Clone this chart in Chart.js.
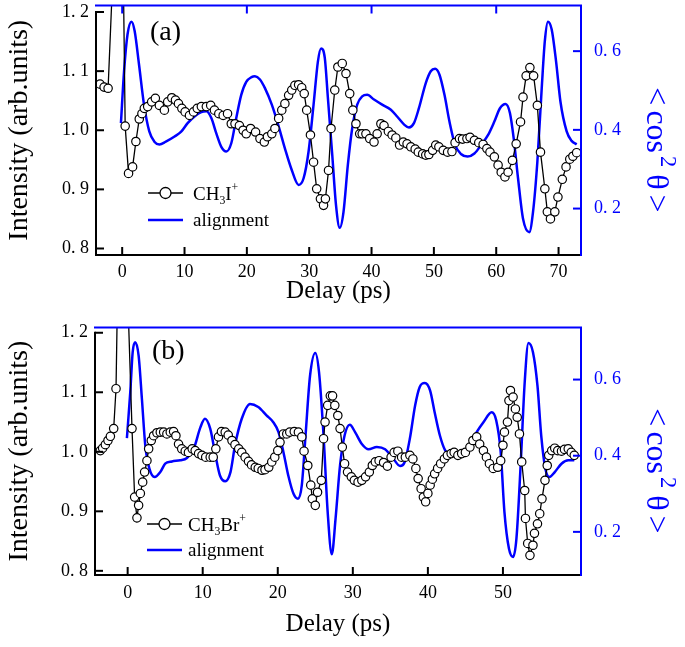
<!DOCTYPE html>
<html><head><meta charset="utf-8">
<script src="https://cdn.jsdelivr.net/npm/chart.js@4/dist/chart.umd.min.js"></script>
<style>
html,body{margin:0;padding:0;background:#fff;}
#wrap{position:relative;width:685px;height:647px;overflow:hidden;}
canvas{position:absolute;left:0;}
#ca{top:0;} #cb{top:322px;}
</style></head>
<body><div id="wrap"><canvas id="ca" width="685" height="322"></canvas><canvas id="cb" width="685" height="325"></canvas></div>
<script>
// ---------- DATA: panel (a) CH3I+ ----------
const timeA = [-3.55,-2.9,-2.26,-0.2,0.48,1.02,1.67,2.2,2.74,3.17,3.55,4.09,4.73,5.32,5.97,6.77,7.3,7.96,8.55,9.03,9.57,10.1,10.8,11.45,12.04,12.7,13.5,14.2,14.8,15.5,16.2,16.9,17.5,18.1,18.8,19.4,19.9,20.6,21.4,22.1,22.8,23.3,24.0,24.5,25.1,25.6,26.1,26.7,27.2,27.7,28.3,28.8,29.2,29.6,30.2,30.7,31.2,31.8,32.3,32.6,33.1,33.5,34.1,34.6,35.3,35.9,36.5,37.0,37.5,38.1,38.5,39.1,39.7,40.4,40.9,41.5,42.0,42.7,43.3,43.9,44.5,45.1,45.7,46.3,47.0,47.5,48.2,48.7,49.2,49.8,50.3,50.8,51.5,52.2,52.9,53.4,54.1,54.6,55.3,55.8,56.5,57.2,57.9,58.5,59.0,59.7,60.3,60.8,61.4,61.9,62.6,63.2,63.9,64.3,64.8,65.4,66.0,66.6,67.1,67.8,68.2,68.7,69.4,69.9,70.6,71.2,71.8,72.3,72.9];
const ch3iA = [1.078,1.073,1.071,1.59,1.007,0.927,0.938,0.981,1.019,1.028,1.037,1.040,1.048,1.054,1.042,1.034,1.048,1.055,1.051,1.045,1.037,1.031,1.025,1.031,1.037,1.040,1.040,1.042,1.034,1.028,1.025,1.028,1.011,1.011,1.008,1.000,0.994,1.003,0.997,0.986,0.980,0.989,0.994,1.003,1.020,1.034,1.045,1.059,1.068,1.076,1.077,1.072,1.062,1.034,0.992,0.946,0.901,0.884,0.873,0.884,0.932,1.003,1.068,1.107,1.113,1.096,1.062,1.034,1.011,0.994,0.994,0.994,0.986,0.980,0.994,1.011,1.008,0.998,0.992,0.987,0.975,0.980,0.977,0.972,0.968,0.963,0.960,0.958,0.959,0.966,0.975,0.972,0.966,0.963,0.964,0.979,0.986,0.985,0.986,0.988,0.983,0.979,0.976,0.969,0.963,0.955,0.941,0.929,0.921,0.929,0.949,0.977,1.014,1.056,1.092,1.106,1.092,1.042,0.963,0.901,0.862,0.850,0.862,0.887,0.917,0.938,0.951,0.956,0.962];
const alignTimeA = [-0.2,0.3,0.86,1.5,2.0,2.7,3.5,4.35,5.16,5.97,7.0,8.4,9.5,10.5,11.6,12.7,13.5,14.3,15.1,15.9,16.7,17.5,18.3,19.1,19.9,20.75,21.3,22.1,22.9,24.0,25.1,26.1,27.2,28.3,29.1,29.9,30.7,31.4,31.9,32.5,33.0,33.7,34.3,34.9,35.5,36.2,36.9,37.7,38.5,39.3,40.4,41.7,43.1,44.1,45.2,46.0,46.8,47.6,48.7,49.5,50.2,50.9,51.7,52.5,53.4,54.4,55.4,56.5,57.6,58.7,59.7,60.6,61.5,62.2,62.8,63.5,64.3,65.3,65.9,66.6,67.3,67.8,68.3,68.9,69.6,70.3,71.3,72.1,72.9];
const alignA = [0.417,0.549,0.643,0.675,0.651,0.566,0.464,0.396,0.370,0.363,0.370,0.383,0.396,0.417,0.434,0.445,0.447,0.430,0.391,0.357,0.345,0.366,0.430,0.489,0.522,0.534,0.536,0.528,0.506,0.464,0.409,0.353,0.298,0.260,0.277,0.345,0.464,0.574,0.607,0.583,0.481,0.336,0.209,0.151,0.191,0.311,0.404,0.464,0.485,0.489,0.477,0.464,0.451,0.434,0.414,0.406,0.417,0.455,0.519,0.549,0.555,0.540,0.489,0.421,0.362,0.338,0.332,0.340,0.362,0.387,0.421,0.455,0.466,0.443,0.379,0.277,0.174,0.140,0.191,0.319,0.506,0.626,0.675,0.655,0.574,0.472,0.396,0.372,0.363];

// ---------- DATA: panel (b) CH3Br+ ----------
const timeB = [-3.64,-3.33,-2.97,-2.62,-2.3,-1.86,-1.55,-0.9,0.58,0.93,1.24,1.46,1.69,2.0,2.26,2.57,2.8,3.15,3.46,3.9,4.35,4.8,5.23,5.68,6.12,6.43,6.78,7.2,7.67,8.1,8.6,9.0,9.45,9.9,10.4,11.0,11.4,11.75,12.1,12.5,13.0,13.4,13.9,14.3,14.8,15.2,15.65,16.1,16.5,17.0,17.4,17.9,18.3,18.8,19.2,19.6,20.0,20.3,20.75,21.2,21.6,22.2,22.75,23.2,23.5,24.0,24.4,24.6,25.0,25.3,25.8,26.1,26.3,26.65,27.0,27.3,27.6,28.0,28.3,28.6,28.9,29.3,29.8,30.2,30.7,31.2,31.7,32.2,32.6,33.0,33.5,34.1,34.6,35.1,35.5,36.0,36.5,37.0,37.6,38.0,38.4,38.7,39.1,39.4,39.7,40.0,40.3,40.6,40.9,41.3,41.7,42.2,42.6,43.1,43.5,44.0,44.5,45.0,45.6,46.0,46.5,46.9,47.4,47.8,48.2,48.7,49.3,49.7,50.0,50.2,50.6,50.8,51.0,51.35,51.66,51.9,52.2,52.5,52.9,53.0,53.3,53.6,54.0,54.2,54.6,54.9,55.2,55.6,55.9,56.1,56.5,56.9,57.3,57.8,58.2,58.7,59.1,59.5];
const ch3brB = [1.002,1.006,1.012,1.019,1.026,1.039,1.106,1.62,1.039,0.924,0.889,0.910,0.930,0.949,0.966,0.985,1.005,1.019,1.027,1.032,1.033,1.033,1.030,1.033,1.034,1.027,1.013,1.005,1.001,0.999,1.005,1.002,0.997,0.994,0.991,0.991,0.991,1.005,1.025,1.034,1.033,1.028,1.019,1.012,1.005,0.999,0.991,0.984,0.978,0.974,0.972,0.969,0.970,0.974,0.983,0.991,1.002,1.016,1.030,1.030,1.033,1.034,1.033,1.025,1.001,0.977,0.944,0.921,0.910,0.932,0.952,1.022,1.050,1.078,1.094,1.094,1.078,1.061,1.039,1.008,0.980,0.966,0.958,0.952,0.949,0.952,0.958,0.966,0.977,0.983,0.985,0.982,0.976,0.991,0.999,1.001,0.991,0.991,0.994,0.988,0.972,0.955,0.938,0.924,0.916,0.930,0.944,0.954,0.963,0.972,0.980,0.988,0.994,0.997,0.999,0.994,0.997,0.999,1.008,1.019,1.025,1.013,1.002,0.991,0.980,0.972,0.974,0.985,1.011,1.033,1.050,1.086,1.103,1.092,1.072,1.058,1.030,0.983,0.935,0.888,0.846,0.826,0.843,0.863,0.879,0.896,0.921,0.952,0.977,0.994,1.002,1.006,1.002,1.001,1.004,1.005,0.999,0.994];
const alignTimeB = [-0.1,0.35,0.67,1.0,1.46,1.9,2.35,2.9,3.6,4.35,5.0,5.9,7.0,7.9,8.8,9.7,10.3,11.0,11.7,12.3,13.0,13.7,14.3,15.2,16.3,17.4,18.5,19.4,20.1,20.75,21.4,22.1,22.7,23.2,23.7,24.3,25.0,25.5,26.1,26.65,27.2,27.7,28.3,28.9,29.6,30.3,31.2,32.1,33.2,34.3,35.4,36.3,36.9,37.6,38.3,38.9,39.6,40.3,40.9,41.6,42.3,42.9,43.8,44.7,45.6,46.5,47.4,48.5,49.1,49.7,50.2,50.8,51.35,51.8,52.4,52.9,53.4,54.0,54.6,55.1,55.65,56.2,56.9,57.8,58.7,59.5];
const alignB = [0.446,0.567,0.672,0.698,0.663,0.549,0.427,0.366,0.344,0.357,0.379,0.385,0.388,0.394,0.418,0.475,0.497,0.471,0.401,0.348,0.333,0.357,0.427,0.497,0.536,0.528,0.506,0.488,0.462,0.410,0.348,0.300,0.287,0.322,0.453,0.610,0.670,0.619,0.453,0.252,0.141,0.235,0.375,0.453,0.481,0.462,0.431,0.417,0.423,0.417,0.392,0.373,0.383,0.445,0.532,0.580,0.591,0.571,0.514,0.453,0.414,0.405,0.403,0.405,0.427,0.462,0.488,0.514,0.493,0.410,0.252,0.156,0.134,0.183,0.392,0.593,0.696,0.672,0.584,0.453,0.366,0.344,0.357,0.379,0.388,0.388];

// ---------- TICKS ----------
const xTicksA = [0,10,20,30,40,50,60,70];
const xTopTicksA = [0,20,40,60];
const xTicksB = [0,10,20,30,40,50];
const xTopTicksB = [];
const leftTicks = [0.8,0.9,1.0,1.1,1.2];
const rightTicks = [0.2,0.4,0.6];

// ---------- STYLE ----------
const BLUE = '#0000ff';
const SERIF = "'Liberation Serif','Times New Roman',serif";

function pairs(xs, ys){ return xs.map((x,i)=>({x:x, y:ys[i]})); }
function fmt(v){ return v.toFixed(1).replace('.', '. '); }

function drawRich(ctx, parts, x, y, size){
  let cx = x;
  for(const p of parts){
    const s = (p.sub||p.sup) ? size*(p.scale||0.62) : size;
    ctx.font = s + 'px ' + SERIF;
    const dy = p.sub ? size*0.22 : (p.sup ? -size*0.45 : 0);
    ctx.fillText(p.t, cx, y+dy);
    cx += ctx.measureText(p.t).width + (p.gap||0);
  }
  return cx - x;
}
function richWidth(ctx, parts, size){
  let w=0;
  for(const p of parts){ const s=(p.sub||p.sup)?size*(p.scale||0.62):size; ctx.font=s+'px '+SERIF; w+=ctx.measureText(p.t).width+(p.gap||0); }
  return w;
}
function noPad(s){ s.paddingTop=0; s.paddingBottom=0; s.paddingLeft=0; s.paddingRight=0; }

const framePlugin = {
  id:'frame',
  afterDraw(chart){
    const o = chart.options.plugins.frame;
    const ctx = chart.ctx;
    const {left,right,top,bottom} = chart.chartArea;
    const sx = chart.scales.x, sy = chart.scales.y, sy2 = chart.scales.y2;
    ctx.save();
    ctx.lineWidth = 2;
    ctx.lineCap = 'butt';
    const line=(x1,y1,x2,y2)=>{ctx.beginPath();ctx.moveTo(x1,y1);ctx.lineTo(x2,y2);ctx.stroke();};
    // blue top & right
    ctx.strokeStyle = BLUE;
    line(left-1, top, right+1, top);
    line(right, top, right, bottom+1);
    for(const v of o.topTicks){ const px = sx.getPixelForValue(v); line(px, top, px, top+8); }
    for(const v of rightTicks){ const py = sy2.getPixelForValue(v); line(right, py, right-8, py); }
    // black left & bottom
    ctx.strokeStyle = '#000';
    line(left, sy.getPixelForValue(1.2)-1, left, bottom+1);
    line(left-1, bottom, right-1, bottom);
    for(const v of leftTicks){ const py = sy.getPixelForValue(v); line(left, py, left+8, py); }
    for(const v of o.bottomTicks){ const px = sx.getPixelForValue(v); line(px, bottom, px, bottom-8); }

    // panel label
    ctx.fillStyle = '#000';
    ctx.textBaseline = 'alphabetic';
    ctx.textAlign = 'left';
    ctx.font = '28px ' + SERIF;
    ctx.fillText(o.label, o.labelX, o.labelY);

    // legend
    const L = o.legend;
    ctx.lineWidth = 1.5; ctx.strokeStyle = '#000';
    line(L.x0, L.y1, L.x1, L.y1);
    ctx.beginPath(); ctx.arc((L.x0+L.x1)/2, L.y1, 5.5, 0, Math.PI*2);
    ctx.fillStyle='#fff'; ctx.fill(); ctx.lineWidth=1.3; ctx.stroke();
    ctx.strokeStyle = BLUE; ctx.lineWidth = 2.5;
    line(L.x0, L.y2, L.x1, L.y2);
    ctx.fillStyle = '#000';
    drawRich(ctx, L.parts, L.tx, L.y1+7, 19);
    drawRich(ctx, [{t:'alignment'}], L.tx, L.y2+6, 19);

    // right title (rotated, reading downward)
    const rt = [{t:'<', gap:5},{t:'cos', gap:3},{t:'2',sup:true, scale:0.7, gap:7},{t:'\u03B8', gap:5},{t:'>'}];
    ctx.save();
    ctx.fillStyle = BLUE;
    ctx.translate(o.rtX, o.rtY);
    ctx.rotate(Math.PI/2);
    const w = richWidth(ctx, rt, 32);
    drawRich(ctx, rt, -w/2, 10, 32);
    ctx.restore();
    ctx.restore();
  }
};

function makeChart(id, cfg){
  const H = cfg.height;
  return new Chart(document.getElementById(id), {
    type:'line',
    data:{ datasets:[
      { label:cfg.name, data:pairs(cfg.t, cfg.v), yAxisID:'y', borderColor:'#000', borderWidth:1.3,
        pointRadius:4.2, pointBackgroundColor:'#fff', pointBorderColor:'#000', pointBorderWidth:1.2,
        tension:0, order:1 },
      { label:'alignment', data:pairs(cfg.at, cfg.av), yAxisID:'y2', borderColor:BLUE, borderWidth:2.5,
        pointRadius:0, cubicInterpolationMode:'monotone', order:2 }
    ]},
    options:{
      responsive:false, animation:false, events:[],
      layout:{padding:{top:cfg.top, left:0, right:0, bottom:0}},
      plugins:{ legend:{display:false}, tooltip:{enabled:false}, frame:cfg.frame },
      scales:{
        x:{ type:'linear', min:cfg.xmin, max:cfg.xmax,
            afterBuildTicks:s=>{ s.ticks = cfg.xticks.map(v=>({value:v})); },
            afterFit:s=>{ s.height = H - cfg.bottom; noPad(s); },
            grid:{display:false, drawTicks:false}, border:{display:false},
            ticks:{ color:'#000', font:{family:SERIF, size:18}, padding:cfg.xtickPad, maxRotation:0, autoSkip:false },
            title:{ display:true, text:'Delay (ps)', color:'#000', font:{family:SERIF, size:25}, padding:{top:0,bottom:cfg.xtitlePad} } },
        y:{ type:'linear', position:'left', min:cfg.ymin, max:cfg.ymax,
            afterBuildTicks:s=>{ s.ticks = leftTicks.map(v=>({value:v})); },
            afterFit:s=>{ s.width = cfg.left; noPad(s); },
            grid:{display:false, drawTicks:false}, border:{display:false},
            ticks:{ color:'#000', font:{family:SERIF, size:18}, padding:7, callback:v=>fmt(v) },
            title:{ display:true, text:'Intensity (arb.units)', color:'#000', font:{family:SERIF, size:28}, padding:{top:3,bottom:0} } },
        y2:{ type:'linear', position:'right', min:cfg.y2min, max:cfg.y2max,
            afterBuildTicks:s=>{ s.ticks = rightTicks.map(v=>({value:v})); },
            afterFit:s=>{ s.width = 104; noPad(s); },
            grid:{display:false, drawTicks:false}, border:{display:false},
            ticks:{ color:BLUE, font:{family:SERIF, size:18}, padding:13, callback:v=>fmt(v) } }
      }
    },
    plugins:[framePlugin]
  });
}

makeChart('ca', {
  height:322, top:5.5, bottom:255, left:96, xtitlePad:16, xtickPad:6,
  name:'CH3I+', t:timeA, v:ch3iA, at:alignTimeA, av:alignA,
  xmin:-4.2, xmax:73.6, xticks:xTicksA, ymin:0.789, ymax:1.211, y2min:0.082, y2max:0.716,
  frame:{ topTicks:xTopTicksA, bottomTicks:xTicksA, label:'(a)', labelX:150, labelY:40,
          legend:{x0:148, x1:183, y1:193, y2:220, tx:193, parts:[{t:'CH'},{t:'3',sub:true},{t:'I'},{t:'+',sup:true}]},
          rtX:657, rtY:150 }
});
makeChart('cb', {
  height:325, top:4.5, bottom:253, left:95, xtitlePad:8, xtickPad:7,
  name:'CH3Br+', t:timeB, v:ch3brB, at:alignTimeB, av:alignB,
  xmin:-4.35, xmax:60.4, xticks:xTicksB, ymin:0.793, ymax:1.209, y2min:0.0867, y2max:0.737,
  frame:{ topTicks:xTopTicksB, bottomTicks:xTicksB, label:'(b)', labelX:152, labelY:359-322,
          legend:{x0:147, x1:182, y1:524-322, y2:550-322, tx:188, parts:[{t:'CH'},{t:'3',sub:true},{t:'Br'},{t:'+',sup:true}]},
          rtX:657, rtY:149 }
});
</script>
</body></html>
